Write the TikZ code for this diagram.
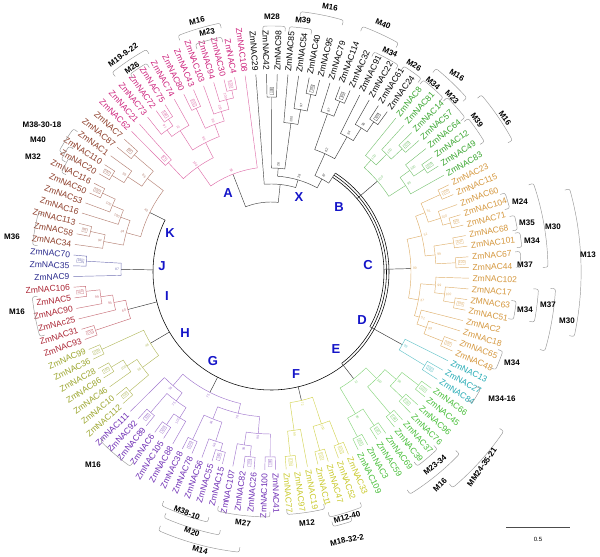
\documentclass[tikz,border=0pt]{standalone}
\usepackage{fontspec}
\setmainfont{Liberation Sans}
\usepackage{tikz}
\definecolor{Fucsia}    {RGB}{205, 35,125}
\definecolor{Verde}     {RGB}{ 55,165, 45}
\definecolor{Naranja}   {RGB}{212,150, 60}
\definecolor{Turquesa}  {RGB}{ 35,170,180}
\definecolor{VerdeClaro}{RGB}{ 70,190, 55}
\definecolor{Amarillo}  {RGB}{200,200, 40}
\definecolor{Morado}    {RGB}{110, 45,180}
\definecolor{Oliva}     {RGB}{155,165, 45}
\definecolor{Granate}   {RGB}{170, 35, 50}
\definecolor{Marino}    {RGB}{ 40, 40,140}
\definecolor{Marron}    {RGB}{140, 60, 40}
\definecolor{AzulLetra} {RGB}{ 20, 20,200}
\definecolor{GrisLlave} {RGB}{150,150,150}
\newcounter{bsn}
\newcommand{\thz}{94.4}
\newcommand{\dth}{3.1034}
\newcommand{\nd}[6]{%
  \pgfmathsetmacro{\angA}{\thz-(#1)*\dth}%
  \pgfmathsetmacro{\angB}{\thz-(#3)*\dth}%
  \pgfmathsetmacro{\angM}{(\angA+\angB)/2}%
  \draw (\angA:#2pt) -- (\angA:#5pt) arc[start angle=\angA,end angle=\angB,radius=#5pt] -- (\angB:#4pt);%
  \if\relax\detokenize{#6}\relax\else
    \stepcounter{bsn}%
    \pgfmathtruncatemacro{\esHoja}{(#2==198)&&(#4==198)}%
    \pgfmathsetmacro{\rotM}{cos(\angM)<0 ? \angM+180 : \angM}%
    \ifnum\esHoja=1
      \pgfmathsetmacro{\rB}{#5+6}%
      \node[bsbox,rotate=\rotM] (b\thebsn) at (\angM:\rB pt) {#6};%
    \else
      \pgfmathsetmacro{\rB}{#5+4}%
      \node[bsval,rotate=\rotM] (b\thebsn) at (\angM:\rB pt) {#6};%
    \fi
  \fi}
\newcommand{\lf}[2]{%
  \pgfmathsetmacro{\angL}{\thz-(#1)*\dth}%
  \pgfmathtruncatemacro{\lado}{cos(\angL)<0}%
  \ifnum\lado=1
    \pgfmathsetmacro{\rotL}{\angL+180}%
    \node[hoja,anchor=east,rotate=\rotL] (n#1) at (\angL:201pt) {#2};%
  \else
    \node[hoja,anchor=west,rotate=\angL] (n#1) at (\angL:201pt) {#2};%
  \fi}
\newcommand{\brk}[3]{%
  \pgfmathsetmacro{\angA}{\thz-(#1)*\dth}%
  \pgfmathsetmacro{\angB}{\thz-(#2)*\dth}%
  \pgfmathsetmacro{\rIn}{#3-5}%
  \draw[llave] (\angA:\rIn pt) -- (\angA:#3pt) arc[start angle=\angA,end angle=\angB,radius=#3pt] -- (\angB:\rIn pt);}
\tikzset{
  hoja/.style={font=\fontsize{8.5}{9}\selectfont, inner sep=0.5pt},
  bsbox/.style={draw, line width=0.2pt, fill=white, inner sep=0.7pt, font=\fontsize{3.4}{3.4}\selectfont},
  bsval/.style={inner sep=0.3pt, font=\fontsize{3.4}{3.4}\selectfont},
  llave/.style={GrisLlave, line width=0.45pt, rounded corners=2pt},
  motivo/.style={font=\bfseries\fontsize{8}{9}\selectfont, inner sep=0.5pt},
  clado/.style={AzulLetra, font=\bfseries\fontsize{13}{14}\selectfont},
  anillo/.style={black, line width=0.55pt}
}
\begin{document}
\begin{tikzpicture}[x=1pt,y=1pt,line width=0.45pt]
\useasboundingbox (0,0) rectangle (600,557);
\begin{scope}[shift={(271,285)}]
  % ring and root
  \draw[anillo] (57:118pt) arc[start angle=57,end angle=-206.13,radius=118pt];
  \draw[anillo] (57:115.5pt) arc[start angle=57,end angle=-52.24,radius=115.5pt];
  \draw[anillo] (57:113pt) arc[start angle=57,end angle=-28.96,radius=113pt];
  \foreach \p/\ra/\rb in {17.375/113/140, 29.97/113/140, 39.75/113/150, 47.25/115.5/135, 55.125/118/132,
                          68.09/118/135, 78.5625/118/140, 83.6875/118/148, 88.75/118/150, 96.84/118/135}{
    \pgfmathsetmacro{\angS}{\thz-\p*\dth}
    \draw[black!80] (\angS:\ra pt) -- (\angS:\rb pt);
  }
  \begin{scope}[black!75]
    \nd{1}{198}{2}{198}{175}{100}
    \nd{5}{198}{6}{198}{182}{100}
    \nd{4}{198}{5.5}{182}{165}{97}
    \nd{3}{198}{4.75}{165}{150}{100}
    \nd{8}{198}{9}{198}{184}{100}
    \nd{7}{198}{8.5}{184}{168}{87}
    \nd{12}{198}{13}{198}{182}{100}
    \nd{11}{198}{12.5}{182}{170}{96}
    \nd{10}{198}{11.75}{170}{155}{94}
    \nd{7.75}{168}{10.875}{155}{130}{62}
    \nd{1.5}{175}{3.875}{150}{104}{26}
    \nd{9.3125}{130}{12.05}{118}{106}{87}
    \nd{2.6875}{104}{10.68}{106}{96}{28}
    \nd{0}{198}{6.68}{96}{88}{}
    \nd{-5.43}{105}{3.34}{88}{70}{}
  \end{scope}
  \begin{scope}[Fucsia!65]
    \nd{106}{198}{107}{198}{184}{100}
    \nd{105}{198}{106.5}{184}{176}{97}
    \nd{105.75}{176}{108}{198}{168}{72}
    \nd{109}{198}{110}{198}{180}{100}
    \nd{113}{198}{114}{198}{186}{100}
    \nd{112}{198}{113.5}{186}{178}{100}
    \nd{111}{198}{112.75}{178}{168}{100}
    \nd{109.5}{180}{111.875}{168}{158}{86}
    \nd{106.875}{168}{110.6875}{158}{145}{96}
    \nd{103}{198}{104}{198}{150}{67}
    \nd{103.5}{150}{108.78}{145}{128}{100}
    \nd{106.14}{128}{115}{198}{105}{98}
  \end{scope}
  \begin{scope}[Verde!65]
    \nd{16}{198}{17}{198}{180}{100}
    \nd{15}{198}{16.5}{180}{165}{100}
    \nd{14}{198}{15.75}{165}{150}{100}
    \nd{19}{198}{20}{198}{185}{100}
    \nd{18}{198}{19.5}{185}{172}{100}
    \nd{18.75}{172}{21}{198}{160}{99}
    \nd{14.875}{150}{19.875}{160}{140}{100}
  \end{scope}
  \begin{scope}[Naranja!75]
    \nd{22}{198}{23}{198}{186}{100}
    \nd{25}{198}{26}{198}{186}{90}
    \nd{24}{198}{25.5}{186}{178}{100}
    \nd{22.5}{186}{24.75}{178}{165}{51}
    \nd{27}{198}{28}{198}{185}{100}
    \nd{29}{198}{30}{198}{185}{100}
    \nd{27.5}{185}{29.5}{185}{165}{99}
    \nd{23.625}{165}{28.5}{165}{155}{51}
    \nd{33}{198}{34}{198}{186}{100}
    \nd{32}{198}{33.5}{186}{175}{100}
    \nd{31}{198}{32.75}{175}{165}{99}
    \nd{37}{198}{38}{198}{185}{100}
    \nd{36}{198}{37.5}{185}{165}{99}
    \nd{35}{198}{36.75}{165}{155}{51}
    \nd{31.875}{165}{35.875}{155}{150}{37}
    \nd{26.0625}{155}{33.875}{150}{140}{99}
  \end{scope}
  \begin{scope}[Turquesa!70]
    \nd{40}{198}{41}{198}{180}{100}
    \nd{39}{198}{40.5}{180}{150}{99}
  \end{scope}
  \begin{scope}[VerdeClaro!65]
    \nd{42}{198}{43}{198}{186}{100}
    \nd{44}{198}{45}{198}{182}{100}
    \nd{42.5}{186}{44.5}{182}{165}{98}
    \nd{46}{198}{47}{198}{185}{100}
    \nd{43.5}{165}{46.5}{185}{150}{100}
    \nd{48}{198}{49}{198}{185}{100}
    \nd{50}{198}{51}{198}{186}{100}
    \nd{48.5}{185}{50.5}{186}{165}{98}
    \nd{45}{150}{49.5}{165}{135}{72}
  \end{scope}
  \begin{scope}[Amarillo!80]
    \nd{52}{198}{53}{198}{185}{100}
    \nd{54}{198}{55}{198}{185}{100}
    \nd{52.5}{185}{54.5}{185}{160}{100}
    \nd{57}{198}{58}{198}{185}{100}
    \nd{56}{198}{57.5}{185}{160}{99}
    \nd{53.5}{160}{56.75}{160}{132}{72}
  \end{scope}
  \begin{scope}[Morado!65]
    \nd{59}{198}{60}{198}{185}{100}
    \nd{61}{198}{62}{198}{186}{100}
    \nd{61.5}{186}{63}{198}{175}{99}
    \nd{59.5}{185}{62.25}{175}{162}{99}
    \nd{64}{198}{65}{198}{186}{100}
    \nd{64.5}{186}{66}{198}{178}{98}
    \nd{67}{198}{68}{198}{185}{100}
    \nd{65.25}{178}{67.5}{185}{158}{84}
    \nd{60.875}{162}{66.375}{158}{145}{76}
    \nd{70}{198}{71}{198}{185}{100}
    \nd{69}{198}{70.5}{185}{172}{100}
    \nd{72}{198}{73}{198}{185}{100}
    \nd{69.75}{172}{72.5}{185}{160}{75}
    \nd{71.125}{160}{74}{198}{150}{55}
    \nd{63.625}{145}{72.5625}{150}{135}{75}
  \end{scope}
  \begin{scope}[Oliva!75]
    \nd{75}{198}{76}{198}{185}{100}
    \nd{78}{198}{79}{198}{186}{100}
    \nd{77}{198}{78.5}{186}{172}{100}
    \nd{75.5}{185}{77.75}{172}{160}{65}
    \nd{80}{198}{81}{198}{186}{100}
    \nd{76.625}{160}{80.5}{186}{140}{46}
  \end{scope}
  \begin{scope}[Granate!65]
    \nd{82}{198}{83}{198}{185}{100}
    \nd{86}{198}{87}{198}{186}{100}
    \nd{85}{198}{86.5}{186}{172}{99}
    \nd{84}{198}{85.75}{172}{160}{94}
    \nd{82.5}{185}{84.875}{160}{148}{60}
  \end{scope}
  \begin{scope}[Marino!65]
    \nd{89}{198}{90}{198}{185}{100}
    \nd{88}{198}{89.5}{185}{150}{87}
  \end{scope}
  \begin{scope}[Marron!65]
    \nd{92}{198}{93}{198}{185}{95}
    \nd{91}{198}{92.5}{185}{170}{94}
    \nd{96}{198}{97}{198}{186}{100}
    \nd{95}{198}{96.5}{186}{172}{100}
    \nd{94}{198}{95.75}{172}{160}{100}
    \nd{91.75}{170}{94.875}{160}{150}{34}
    \nd{98}{198}{99}{198}{186}{100}
    \nd{98.5}{186}{100}{198}{172}{99}
    \nd{101}{198}{102}{198}{180}{98}
    \nd{99.25}{172}{101.5}{180}{155}{86}
    \nd{93.3125}{150}{100.375}{155}{135}{40}
  \end{scope}
  % leaf labels
  \begin{scope}[text=black]
    \foreach \nm [count=\k from 0] in {ZmNAC29,ZmNAC42,ZmNAC98,ZmNAC85,ZmNAC54,ZmNAC40,ZmNAC95,ZmNAC79,ZmNAC114,ZmNAC32,ZmNAC91,ZmNAC22,ZmNAC61,ZmNAC24}{\lf{\k}{\nm}}
  \end{scope}
  \begin{scope}[text=Verde]
    \foreach \nm [count=\k from 14] in {ZmNAC8,ZmNAC81,ZmNAC14,ZmNAC57,ZmNAC64,ZmNAC12,ZmNAC49,ZmNAC83}{\lf{\k}{\nm}}
  \end{scope}
  \begin{scope}[text=Naranja]
    \foreach \nm [count=\k from 22] in {ZmNAC23,ZmNAC115,ZmNAC60,ZmNAC104,ZmNAC71,ZmNAC68,ZmNAC101,ZmNAC67,ZmNAC44,ZmNAC102,ZmNAC17,ZMNAC63,ZmNAC51,ZmNAC2,ZmNAC18,ZmNAC65,ZmNAC48}{\lf{\k}{\nm}}
  \end{scope}
  \begin{scope}[text=Turquesa]
    \foreach \nm [count=\k from 39] in {ZmNAC13,ZmNAC27,ZmNAC84}{\lf{\k}{\nm}}
  \end{scope}
  \begin{scope}[text=VerdeClaro]
    \foreach \nm [count=\k from 42] in {ZmNAC66,ZmNAC45,ZmNAC96,ZmNAC76,ZmNAC37,ZmNAC39,ZmNAC69,ZmNAC59,ZmNAC3,ZmNAC109}{\lf{\k}{\nm}}
  \end{scope}
  \begin{scope}[text=Amarillo]
    \foreach \nm [count=\k from 52] in {ZmNAC33,ZmNAC52,ZmNAC47,ZmNAC11,ZmNAC19,ZmNAC97,ZmNAC77}{\lf{\k}{\nm}}
  \end{scope}
  \begin{scope}[text=Morado]
    \foreach \nm [count=\k from 59] in {ZmNAC41,ZmNAC100,ZmNAC26,ZmNAC82,ZmNAC107,ZmNAC15,ZmNAC55,ZmNAC56,ZmNAC78,ZmNAC38,ZmNAC88,ZmNAC105,ZmNAC6,ZmNAC89,ZmNAC92,ZmNAC111}{\lf{\k}{\nm}}
  \end{scope}
  \begin{scope}[text=Oliva]
    \foreach \nm [count=\k from 75] in {ZmNAC112,ZmNAC10,ZmNAC46,ZmNAC86,ZmNAC28,ZmNAC36,ZmNAC99}{\lf{\k}{\nm}}
  \end{scope}
  \begin{scope}[text=Granate]
    \foreach \nm [count=\k from 82] in {ZmNAC93,ZmNAC31,ZmNAc25,ZmNAC90,ZmNAC5,ZmNAC106}{\lf{\k}{\nm}}
  \end{scope}
  \begin{scope}[text=Marino]
    \foreach \nm [count=\k from 88] in {ZmNAC9,ZmNAC35,ZmNAC70}{\lf{\k}{\nm}}
  \end{scope}
  \begin{scope}[text=Marron]
    \foreach \nm [count=\k from 91] in {ZmNAC34,ZmNAC58,ZmNAC113,ZmNAC16,ZmNAC53,ZmNAC50,ZmNAC116,ZmNAC20,ZmNAC110,ZmNAC1,ZmNAC87,ZmNAC7}{\lf{\k}{\nm}}
  \end{scope}
  \begin{scope}[text=Fucsia]
    \foreach \nm [count=\k from 103] in {ZmNAC62,ZmNAC21,ZmNAC73,ZmNAC72,ZmNAC75,ZmNAC74,ZmNAC80,ZmNAC43,ZmNAC103,ZmNAC94,ZmNAC30,ZmNAC4,ZmNAC108}{\lf{\k}{\nm}}
  \end{scope}
  % motif brackets
  \foreach \a/\b/\R in {105/108/255, 106/107.5/243, 110.5/113.7/254, 111.5/113.6/240, 0.8/2.5/246, 2.8/4.5/246,
      3.5/6.6/262, 8/10.8/262, 9.5/11.6/243, 12/13.6/245, 13.8/15.8/245, 14/17/262, 16/18/248, 18.2/20.3/250,
      17.5/21.2/275, 24.4/25.6/247, 26.2/27.3/250, 27.5/28.6/252, 28.9/30.1/250, 24.4/30.1/277, 25.4/34.3/310,
      32.6/34/247, 31.6/33.9/268, 31.5/35.6/285, 36.5/38/245, 39.8/41.1/240, 41.5/46.5/282, 44.6/49.1/262,
      45.5/47.5/243, 52.6/55.1/252, 55.3/58.2/243, 53.6/55/262, 59.5/63.5/245, 64/67.5/258, 63/67/268,
      61.5/67/282, 71/74/240, 83.4/86.5/240, 90.5/93/240, 96.6/97.9/232, 97.5/98.7/238, 98/100/244}{
    \brk{\a}{\b}{\R}
  }
\end{scope}
\foreach \txt/\x/\y/\r [count=\q] in {M19-9-22/123/502/35, M26/132/489/35, M16/197/536/12, M23/207/525/10,
    M28/272/540/0, M39/303/537/-5, M16/330/550/-10, M40/383/533/-22, M34/390/505/-25, M26/414/492/-32,
    M34/433/474/-40, M16/457/482/-32, M23/452/460/-45, M39/477/437/-55, M16/505/439/-55,
    M24/520/355/0, M35/527/334/0, M34/532/316/0, M37/525/292/0, M30/553/330/0, M13/588/302/0,
    M34/525/247/0, M37/548/252/0, M30/567/236/0, M34/512/194/0, M34-16/502/158/0,
    MM24-35-21/482/90/55, M16/440/72/45, M23-34/435/92/40, M12-40/347/40/15, M12/307/34/5,
    M18-32-2/347/17/12, M27/243/34/-6, M38-10/187/44/-22, M20/192/25/-20, M14/200/7/-15,
    M16/93/92/0, M16/17/245/0, M36/12/320/0, M32/33/400/0, M40/38/417/0, M38-30-18/42/432/0}{
  \node[motivo,rotate=\r] (m\q) at (\x,\y) {\txt};
}
\foreach \l/\x/\y in {A/228/364, X/299/360, B/339/350, C/368/292, D/362/237, E/336/208,
    F/296/183, G/213/196, H/185/224, I/167/261, J/162/291, K/170/324}{
  \node[clado] (c\l) at (\x,\y) {\l};
}
\coordinate (e0) at (506,30);
\coordinate (e1) at (570,30);
\draw[black!70] (e0) -- (e1);
\node[font=\fontsize{6}{7}\selectfont] (escala) at (538,18) {0.5};
\end{tikzpicture}
\end{document}
